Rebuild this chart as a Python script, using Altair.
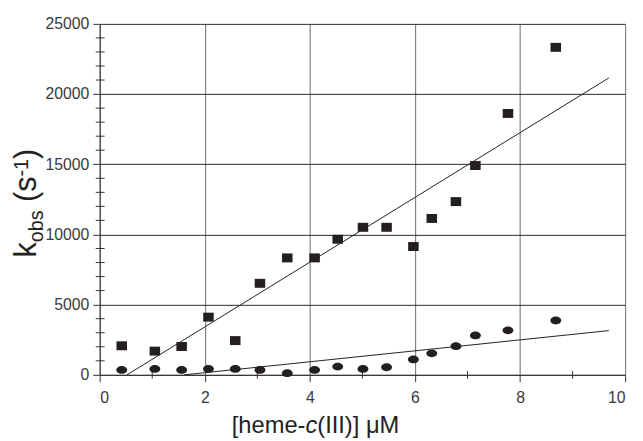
import altair as alt
import pandas as pd

# ---- data ----
conc = [0.42, 1.05, 1.56, 2.07, 2.58, 3.05, 3.57, 4.09, 4.53, 5.01, 5.46, 5.97, 6.32, 6.78, 7.15, 7.77, 8.68]
k_square = [2070, 1690, 2020, 4110, 2440, 6520, 8330, 8330, 9660, 10510, 10510, 9140, 11140, 12340, 14910, 18620, 23330]
k_circle = [350, 420, 350, 420, 420, 350, 120, 350, 590, 420, 540, 1100, 1530, 2040, 2810, 3170, 3870]

fit_square_x = [0.52, 9.69]
fit_square_y = [0, 21150]
fit_circle_x = [1.61, 9.69]
fit_circle_y = [0, 3150]

x_major = [0, 2, 4, 6, 8, 10]
x_minor = [1, 3, 5, 7, 9]
y_major = [0, 5000, 10000, 15000, 20000, 25000]
y_minor = [v for v in range(1000, 25000, 1000) if v % 5000 != 0]

y_title_parts = ["k", "obs", "(s", "-1", ")"]
x_title_parts = ["[heme-", "c", "(III)] μM"]

W, H = 533, 356
INK = "#231f20"
FONT = "Liberation Sans"

pts = pd.DataFrame({"x": conc * 2, "y": k_square + k_circle,
                    "s": ["sq"] * len(conc) + ["ci"] * len(conc)})
fits = pd.DataFrame({"x": fit_square_x + fit_circle_x,
                     "y": fit_square_y + fit_circle_y,
                     "s": ["sq", "sq", "ci", "ci"]})

xs = alt.Scale(domain=[0, 10], nice=False)
ys = alt.Scale(domain=[0, 25000], nice=False)

x_axis = alt.Axis(values=x_major, grid=True, gridColor="#6a6a6a", gridWidth=1,
                  tickSize=7, tickColor="#333", domainColor="#333",
                  labelFont=FONT, labelFontSize=16, labelColor="#3a3a3a",
                  labelPadding=8, title=None, format="d")
y_axis = alt.Axis(values=y_major, grid=True, gridColor="#2a2a2a", gridWidth=1,
                  tickSize=7, tickColor="#333", domainColor="#333",
                  labelFont=FONT, labelFontSize=16, labelColor="#3a3a3a",
                  labelPadding=4, title=None, format="d")

base = alt.Chart(pts)

square_path = "M-1,-0.85L1,-0.85L1,0.85L-1,0.85Z"
ellipse_path = "M-1,0A1,0.72,0,1,0,1,0A1,0.72,0,1,0,-1,0Z"

squares = base.transform_filter(alt.datum.s == "sq").mark_point(
    shape=square_path, filled=True, color=INK, size=114, opacity=1
).encode(x=alt.X("x:Q", scale=xs, axis=x_axis), y=alt.Y("y:Q", scale=ys, axis=y_axis))

circles = base.transform_filter(alt.datum.s == "ci").mark_point(
    shape=ellipse_path, filled=True, color=INK, size=121, opacity=1
).encode(x=alt.X("x:Q", scale=xs), y=alt.Y("y:Q", scale=ys))

lines = alt.Chart(fits).mark_line(color=INK, strokeWidth=1).encode(
    x=alt.X("x:Q", scale=xs), y=alt.Y("y:Q", scale=ys), detail="s:N")

minor_y = alt.Chart(pd.DataFrame({"v": y_minor})).mark_rule(color="#333", strokeWidth=1).encode(
    y=alt.Y("v:Q", scale=ys), x=alt.value(-4), x2=alt.value(5))
minor_x = alt.Chart(pd.DataFrame({"v": x_minor})).mark_rule(color="#333", strokeWidth=1).encode(
    x=alt.X("v:Q", scale=xs), y=alt.value(H - 4), y2=alt.value(H + 4))

one = pd.DataFrame({"a": [0]})

# y title pieces (rotated 270, laid out along the reading direction with dx)
YF, yf = 31, 20
yx, yy = -65, 237
y_specs = [
    (y_title_parts[0], YF, 0, 0),
    (y_title_parts[1], yf, 15.5, 7),
    (y_title_parts[2], YF, 56.3, 0),
    (y_title_parts[3], yf, 82.1, -8),
    (y_title_parts[4], YF, 99.9, 0),
]
y_title = [
    alt.Chart(one).mark_text(text=t, font=FONT, fontSize=fs, angle=270, align="left",
                             baseline="alphabetic", dx=dx, dy=dy, color="#222").encode(
        x=alt.value(yx), y=alt.value(yy))
    for (t, fs, dx, dy) in y_specs
]

XF = 24
xx, xy = 134, 415
x_specs = [
    (x_title_parts[0], "normal", 0),
    (x_title_parts[1], "italic", 74.7),
    (x_title_parts[2], "normal", 86.7),
]
x_title = [
    alt.Chart(one).mark_text(text=t, font=FONT, fontSize=XF, fontStyle=st, align="left",
                             baseline="alphabetic", dx=dx, color="#222").encode(
        x=alt.value(xx), y=alt.value(xy))
    for (t, st, dx) in x_specs
]

chart = alt.layer(minor_y, minor_x, lines, squares, circles, *y_title, *x_title).properties(
    width=W, height=H,
    autosize=alt.AutoSizeParams(type="none"),
    padding={"left": 93, "top": 13, "right": 10, "bottom": 64},
).configure_view(stroke="transparent")

chart.save("out.html", embed_options={"renderer": "svg", "actions": False})
